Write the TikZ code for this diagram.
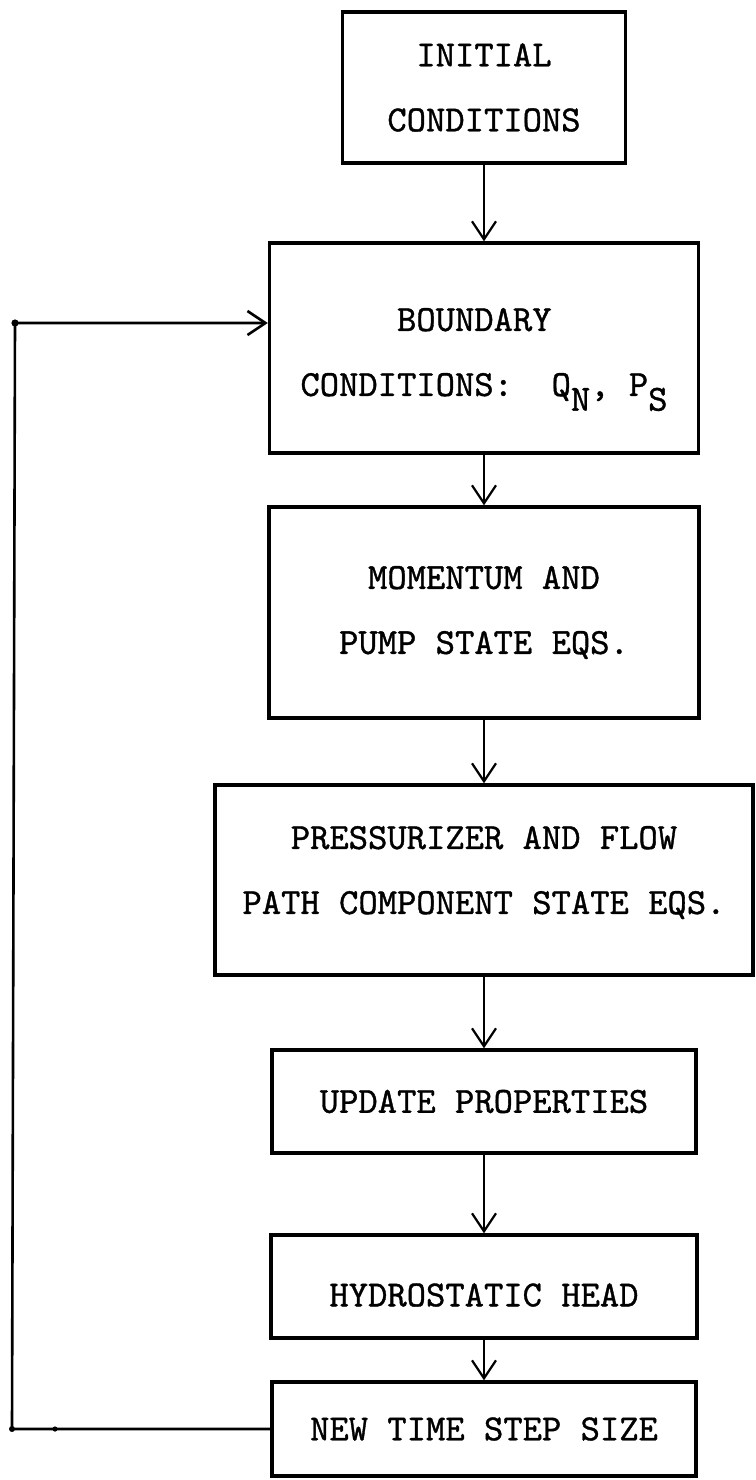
\documentclass[tikz,border=0pt]{standalone}
\usepackage{fontspec}
\usetikzlibrary{arrows.meta}

\newfontfamily\typewr{lmmono10-regular}[Extension=.otf, FakeBold=1]
\newcommand{\lowtxt}[1]{\raisebox{-0.4em}{#1}}

\begin{document}
\begin{tikzpicture}[
  x=0.5pt, y=-0.5pt,
  box/.style={draw, line width=1.7pt, inner sep=0pt, align=center,
    font=\typewr\fontsize{18.4}{32.5}\selectfont},
  flow/.style={line width=1.1pt, -{Straight Barb[length=9pt,width=12pt]}}
]
\useasboundingbox (0,0) rectangle (756,1480);

% blocks, top to bottom
\node[box, minimum width=141.5pt, minimum height=75.5pt] (init) at (484,87.5)
  {INITIAL\\CONDITIONS};
\node[box, align=left, minimum width=214.5pt, minimum height=105pt] (bnd) at (484,348)
  {\rule{0pt}{23pt}\ \ \ \ \ BOUNDARY\\CONDITIONS:\ \ Q\lowtxt{N},\ P\lowtxt{S}};
\node[box, minimum width=215pt, minimum height=105.5pt] (mom) at (484,612.5)
  {MOMENTUM AND\\PUMP STATE EQS.};
\node[box, minimum width=269pt, minimum height=95pt] (prz) at (484,880)
  {PRESSURIZER AND FLOW\\PATH COMPONENT STATE EQS.\rule[-10pt]{0pt}{10pt}};
\node[box, minimum width=212pt, minimum height=51.5pt] (upd) at (484,1101.5)
  {UPDATE PROPERTIES};
\node[box, minimum width=213pt, minimum height=51.5pt] (hyd) at (484,1286.5)
  {\rule{0pt}{20pt}HYDROSTATIC HEAD};
\node[box, minimum width=212pt, minimum height=47pt] (newt) at (484,1429)
  {NEW TIME STEP SIZE};

% main chain
\draw[flow] (init) -- (bnd);
\draw[flow] (bnd) -- (mom);
\draw[flow] (mom) -- (prz);
\draw[flow] (prz) -- (upd);
\draw[flow] (upd) -- (hyd);
\draw[flow] (hyd) -- (newt);

% time step loop back
\coordinate (lt) at (15,323);
\coordinate (lb) at (12,1429);
\draw[flow, line width=1.3pt] (newt.west) -- (lb) -- (lt) -- (lt -| bnd.west);
\fill (lt) circle (1.8pt);
\fill (lb) circle (1.5pt);
\fill (55,1429) circle (1.3pt);
\end{tikzpicture}
\end{document}
